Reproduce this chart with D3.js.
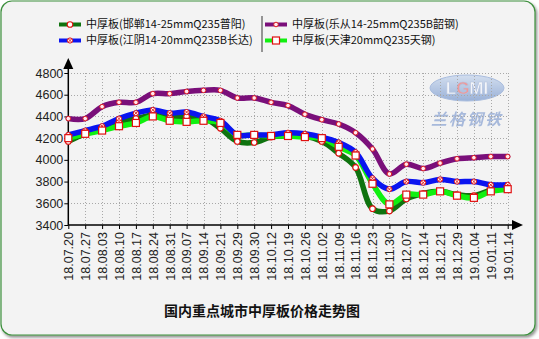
<!DOCTYPE html>
<html>
<head>
<meta charset="utf-8">
<script src="https://cdn.jsdelivr.net/npm/d3@7/dist/d3.min.js"></script>
<style>
  html, body { margin: 0; padding: 0; background: #ffffff; }
  svg { display: block; }
</style>
</head>
<body>
<svg id="chart" width="539" height="339"></svg>
<script>
// Weekly medium plate prices (yuan/ton) in key cities
const dates = ["18.07.20","18.07.27","18.08.03","18.08.10","18.08.17","18.08.24","18.08.31",
  "18.09.07","18.09.14","18.09.21","18.09.29","18.09.30","18.10.12","18.10.19","18.10.26",
  "18.11.02","18.11.09","18.11.16","18.11.23","18.11.30","18.12.07","18.12.14","18.12.21",
  "18.12.29","19.01.04","19.01.11","19.01.14"];

const handan = [4170,4240,4280,4350,4380,4410,4390,4400,4390,4290,4170,4160,4210,4220,4220,
  4170,4060,3930,3550,3530,3640,3690,3710,3680,3670,3720,3740];
const lecong = [4380,4380,4490,4530,4530,4610,4610,4630,4640,4640,4570,4570,4530,4500,4420,
  4370,4330,4250,4100,3870,3960,3920,3970,4010,4020,4030,4030];
const jiangyin = [4230,4270,4310,4380,4430,4460,4430,4440,4400,4360,4230,4230,4230,4250,4240,
  4210,4160,4070,3830,3730,3800,3790,3820,3800,3800,3770,3770];
const tianjin = [4200,4240,4270,4310,4340,4400,4360,4350,4360,4340,4230,4230,4220,4220,4210,
  4200,4120,4040,3780,3590,3680,3680,3710,3670,3650,3710,3730];

const yTicks = [3400,3600,3800,4000,4200,4400,4600,4800];

const seriesNames = [
  "中厚板(邯郸14-25mmQ235普阳)",
  "中厚板(乐从14-25mmQ235B韶钢)",
  "中厚板(江阴14-20mmQ235B长达)",
  "中厚板(天津20mmQ235天钢)"
];
const chartTitle = "国内重点城市中厚板价格走势图";

const series = [
  { name: seriesNames[0], values: handan,   color: "#0f730f", marker: "circle" },
  { name: seriesNames[1], values: lecong,   color: "#7a0f7a", marker: "dot" },
  { name: seriesNames[2], values: jiangyin, color: "#0a14f0", marker: "cross" },
  { name: seriesNames[3], values: tianjin,  color: "#10f010", marker: "square" }
];

const svg = d3.select("#chart");
const W = 539, H = 339;
const latin = "'Liberation Sans', Arial, sans-serif";

// Frame with soft shadow
const defs = svg.append("defs");
const sh = defs.append("filter").attr("id", "shadow").attr("x", "-5%").attr("y", "-5%")
  .attr("width", "110%").attr("height", "115%");
sh.append("feDropShadow").attr("dx", 1.5).attr("dy", 2).attr("stdDeviation", 1.5)
  .attr("flood-color", "#000").attr("flood-opacity", 0.45);

svg.append("rect").attr("x", 1).attr("y", 1).attr("width", W - 5).attr("height", H - 5)
  .attr("rx", 11).attr("ry", 11)
  .attr("fill", "#f3f3f3").attr("stroke", "#3c8f3c").attr("stroke-width", 1.2)
  .attr("filter", "url(#shadow)");

// Scales
const x = d3.scalePoint().domain(dates).range([68.3, 507.7]);
const y = d3.scaleLinear().domain([3400, 4800]).range([225, 73]);
const x0 = 68.3, x1 = 507.7;

// Watermark logo
const logo = svg.append("g").attr("opacity", 0.75);
const lg = defs.append("linearGradient").attr("id", "logoGrad").attr("x1", 0).attr("y1", 0).attr("x2", 0).attr("y2", 1);
lg.append("stop").attr("offset", "0%").attr("stop-color", "#c9d8ee");
lg.append("stop").attr("offset", "100%").attr("stop-color", "#7d9ccf");
logo.append("ellipse").attr("cx", 467).attr("cy", 88).attr("rx", 37).attr("ry", 13)
  .attr("fill", "url(#logoGrad)").attr("stroke", "#8fa9d6").attr("stroke-width", 1);
const lgmi = logo.append("text").attr("x", 467).attr("y", 94).attr("text-anchor", "middle")
  .attr("font-family", latin).attr("font-size", 17).attr("font-weight", "bold")
  .attr("stroke", "#9fb2d8").attr("stroke-width", 0.6);
lgmi.append("tspan").attr("fill", "#f4f6fb").text("L");
lgmi.append("tspan").attr("fill", "#f07a7a").text("G");
lgmi.append("tspan").attr("fill", "#f4f6fb").text("MI");
logo.append("text").attr("x", 467).attr("y", 125).attr("text-anchor", "middle")
  .attr("font-family", "'Noto Sans CJK SC', sans-serif").attr("font-size", 16).attr("font-style", "italic")
  .attr("font-weight", "bold").attr("letter-spacing", 2)
  .attr("fill", "#8ea6d4").text("兰格钢铁");

// Grid
const grid = svg.append("g").attr("stroke", "#a8a8a8").attr("stroke-width", 1)
  .attr("stroke-dasharray", "1,2").attr("shape-rendering", "crispEdges");
yTicks.forEach(t => {
  if (t === 3400) return;
  grid.append("line").attr("x1", x0).attr("x2", x1).attr("y1", Math.round(y(t)) + 0.5).attr("y2", Math.round(y(t)) + 0.5);
});
dates.forEach((d, i) => {
  if (i === 0) return;
  grid.append("line").attr("x1", Math.round(x(d)) + 0.5).attr("x2", Math.round(x(d)) + 0.5).attr("y1", y(4800)).attr("y2", y(3400));
});

// Axes
const yAxis = d3.axisLeft(y).tickValues(yTicks).tickSize(4).tickPadding(1).tickFormat(d3.format("d"));
const gy = svg.append("g").attr("transform", `translate(${x0},0)`).call(yAxis);
gy.select(".domain").remove();
gy.selectAll("text").attr("font-family", latin)
  .attr("font-size", 12.5).attr("fill", "#222");
gy.selectAll("line").attr("stroke", "#000");

const xAxis = d3.axisBottom(x).tickSize(4).tickPadding(4);
const gx = svg.append("g").attr("transform", `translate(0,225)`).call(xAxis);
gx.select(".domain").remove();
gx.selectAll("line").attr("stroke", "#000");
gx.selectAll("text")
  .attr("font-family", latin).attr("font-size", 12.5).attr("fill", "#222")
  .attr("text-anchor", "end").attr("dy", "0.35em")
  .attr("transform", "translate(0,7) rotate(-90)").attr("x", 0).attr("y", 0);

// Axis lines with arrowheads
svg.append("line").attr("x1", x0).attr("x2", x0).attr("y1", 225).attr("y2", 64)
  .attr("stroke", "#000").attr("stroke-width", 1.5);
svg.append("path").attr("d", `M${x0},58 L${x0 - 5},69 L${x0 + 5},69 Z`).attr("fill", "#000");
svg.append("line").attr("x1", x0).attr("x2", 516).attr("y1", 225).attr("y2", 225)
  .attr("stroke", "#000").attr("stroke-width", 1.5);
svg.append("path").attr("d", `M523,225 L512,220 L512,230 Z`).attr("fill", "#000");

// Lines
const line = d3.line().x((d, i) => x(dates[i])).y(d => y(d)).curve(d3.curveCatmullRom.alpha(0.5));
const drawOrder = [0, 3, 2, 1];
drawOrder.forEach(k => {
  const s = series[k];
  svg.append("path").datum(s.values).attr("d", line)
    .attr("fill", "none").attr("stroke", s.color).attr("stroke-width", 5.5)
    .attr("stroke-linejoin", "round").attr("stroke-linecap", "round");
});

// Markers
function drawMarker(g, type, cx, cy) {
  if (type === "square") {
    g.append("rect").attr("x", cx - 3.5).attr("y", cy - 3.5).attr("width", 7).attr("height", 7)
      .attr("fill", "#fff").attr("stroke", "#e01010").attr("stroke-width", 1.2);
  } else if (type === "circle") {
    g.append("circle").attr("cx", cx).attr("cy", cy).attr("r", 2.8)
      .attr("fill", "#fff").attr("stroke", "#e01010").attr("stroke-width", 1.1);
  } else if (type === "cross") {
    g.append("circle").attr("cx", cx).attr("cy", cy).attr("r", 2.6)
      .attr("fill", "#fff").attr("stroke", "#e01010").attr("stroke-width", 1);
    g.append("path").attr("d", `M${cx - 1.6},${cy - 1.6}L${cx + 1.6},${cy + 1.6}M${cx - 1.6},${cy + 1.6}L${cx + 1.6},${cy - 1.6}`)
      .attr("stroke", "#e01010").attr("stroke-width", 0.9);
  } else {
    g.append("circle").attr("cx", cx).attr("cy", cy).attr("r", 2.3)
      .attr("fill", "#ffe8f0").attr("stroke", "#e02020").attr("stroke-width", 1);
  }
}
const mk = svg.append("g");
[0, 1, 2, 3].forEach(k => {
  const s = series[k];
  s.values.forEach((v, i) => drawMarker(mk, s.marker, x(dates[i]), y(v)));
});

// Legend
const legend = svg.append("g").attr("font-family", "'Noto Sans CJK SC', 'Microsoft YaHei', sans-serif")
  .attr("font-size", 11).attr("fill", "#111");
const legPos = [
  { x: 59, y: 24.5 }, { x: 265, y: 24.5 }, { x: 59, y: 40.5 }, { x: 265, y: 40.5 }
];
series.forEach((s, k) => {
  const p = legPos[k];
  legend.append("line").attr("x1", p.x).attr("x2", p.x + 22).attr("y1", p.y).attr("y2", p.y)
    .attr("stroke", s.color).attr("stroke-width", 4);
  drawMarker(legend, s.marker, p.x + 11, p.y);
  legend.append("text").attr("x", p.x + 27).attr("y", p.y).attr("dy", "0.36em").text(s.name);
});
svg.append("line").attr("x1", 262).attr("x2", 262).attr("y1", 16).attr("y2", 52)
  .attr("stroke", "#555").attr("stroke-width", 1.2);

// Title
svg.append("text").attr("x", 262).attr("y", 316).attr("text-anchor", "middle")
  .attr("font-family", "'Noto Sans CJK SC', SimSun, sans-serif").attr("font-size", 14)
  .attr("font-weight", "bold").attr("fill", "#111").text(chartTitle);
</script>
</body>
</html>
